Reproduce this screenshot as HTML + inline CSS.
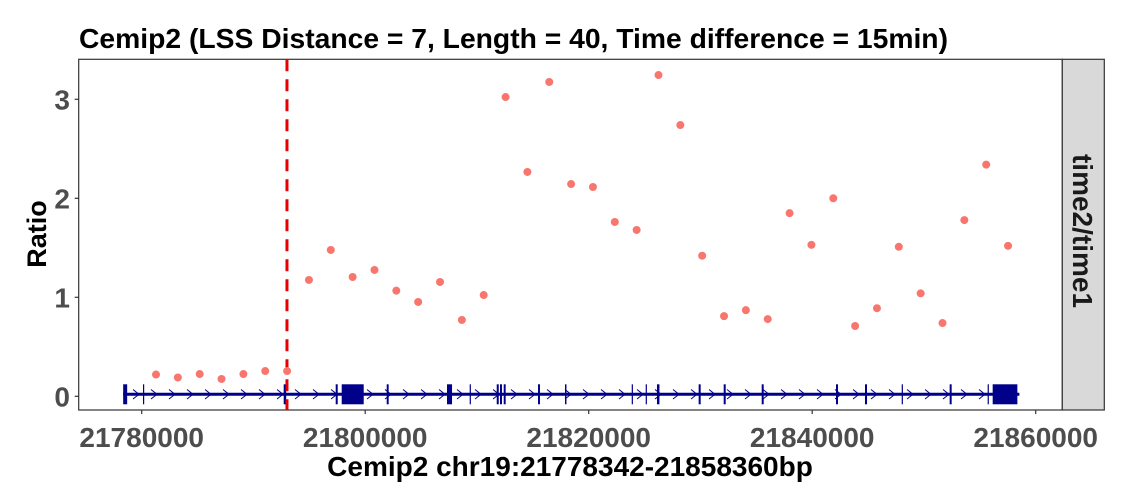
<!DOCTYPE html>
<html><head><meta charset="utf-8"><style>
body{margin:0;background:#fff}
svg{display:block;font-family:"Liberation Sans",sans-serif}
</style></head><body>
<svg id="chart" width="1128" height="500">
<text x="79" y="48" font-size="28" font-weight="bold" fill="#000" textLength="869" lengthAdjust="spacingAndGlyphs">Cemip2 (LSS Distance = 7, Length = 40, Time difference = 15min)</text>
<rect x="78.7" y="59.3" width="983.6" height="350.7" fill="#fff" stroke="#333" stroke-width="1.2"/>
<rect x="1062.3" y="59.3" width="42" height="350.7" fill="#d9d9d9" stroke="#333" stroke-width="1.2"/>
<text transform="translate(1073,231) rotate(90)" text-anchor="middle" font-size="28" font-weight="bold" fill="#1a1a1a">time2/time1</text>
<text transform="translate(46,234) rotate(-90)" text-anchor="middle" font-size="27" font-weight="bold" fill="#000">Ratio</text>
<text x="570" y="476" text-anchor="middle" font-size="28" font-weight="bold" fill="#000">Cemip2 chr19:21778342-21858360bp</text>
<g id="axes"></g><g id="gene"></g><g id="marks"></g>
</svg>
<script>
const xTicks=[21780000,21800000,21820000,21840000,21860000];
const yTicks=[0,1,2,3];
const positions=[21781280,21783235,21785190,21787145,21789100,21791055,21793010,21794965,21796920,21798875,21800830,21802785,21804740,21806695,21808650,21810605,21812560,21814515,21816470,21818425,21820380,21822335,21824290,21826245,21828200,21830155,21832110,21834065,21836020,21837975,21839930,21841885,21843840,21845795,21847750,21849705,21851660,21853615,21855570,21857525];
const ratios=[0.22,0.19,0.225,0.175,0.225,0.255,0.255,1.175,1.478,1.205,1.276,1.067,0.953,1.155,0.771,1.023,3.023,2.266,3.175,2.144,2.114,1.761,1.68,3.245,2.74,1.42,0.81,0.87,0.78,1.85,1.53,2.0,0.71,0.89,1.51,1.04,0.74,1.78,2.34,1.52];
const exonStarts=[21778342,21780116,21792707,21797360,21797897,21801924,21807320,21809350,21811770,21812063,21812395,21815464,21817880,21823850,21825100,21826110,21829840,21832080,21835480,21842130,21844725,21848010,21852300,21855700,21856150];
const exonEnds=[21778700,21780200,21792930,21797540,21799866,21802100,21807770,21809440,21811950,21812240,21812570,21815640,21818010,21823940,21825190,21826330,21830020,21832260,21835660,21842310,21844905,21848100,21852480,21855790,21858360];
const geneStart=21778342, geneEnd=21858360, lssPos=21793000;
const NS='http://www.w3.org/2000/svg';
const X=v=>141.7+(v-21780000)*0.011175;
const Y=v=>396.3-v*99;
function mk(tag,attrs,parent){const e=document.createElementNS(NS,tag);for(const k in attrs)e.setAttribute(k,attrs[k]);document.getElementById(parent).appendChild(e);return e;}
xTicks.forEach(t=>{
 const l=mk('line',{x1:X(t),x2:X(t),y1:410,y2:414,stroke:'#333','stroke-width':1.2},'axes');
 
 
 const tx=mk('text',{x:X(t),y:447,'text-anchor':'middle','font-size':28,'font-weight':'bold',fill:'#4d4d4d'},'axes');
 tx.textContent=t;
 
 
});
yTicks.forEach(t=>{
 const l=mk('line',{x1:74.7,x2:78.7,y1:Y(t),y2:Y(t),stroke:'#333','stroke-width':1.2},'axes');
 
 
 const tx=mk('text',{x:70,y:Y(t)+10,'text-anchor':'end','font-size':28,'font-weight':'bold',fill:'#4d4d4d'},'axes');
 tx.textContent=t;
 
 
});
const gl=mk('line',{x1:X(geneStart),x2:X(geneEnd)+2,y1:394.3,y2:394.3,stroke:'#00008b','stroke-width':3},'gene');


for(let x=136;x<1012;x+=18){
 const c=mk('polyline',{points:`${x-3},389.5 ${x+3},394.3 ${x-3},399`,fill:'none',stroke:'#00008b','stroke-width':1},'gene');
 
 
}
exonStarts.forEach((s,i)=>{
 const x1=X(s),x2=X(exonEnds[i]);
 const r=mk('rect',{x:x1,y:384.3,width:Math.max(1.2,x2-x1),height:20,fill:'#00008b'},'gene');
 
 
});
const lss=mk('line',{x1:X(lssPos),x2:X(lssPos),y1:59.3,y2:410,stroke:'#e60000','stroke-width':3,'stroke-dasharray':'12,8'},'marks');


positions.forEach((p,i)=>{
 const c=mk('circle',{cx:X(p),cy:Y(ratios[i]),r:4,fill:'#f8766d'},'marks');
 
 
});
</script>
</body></html>
